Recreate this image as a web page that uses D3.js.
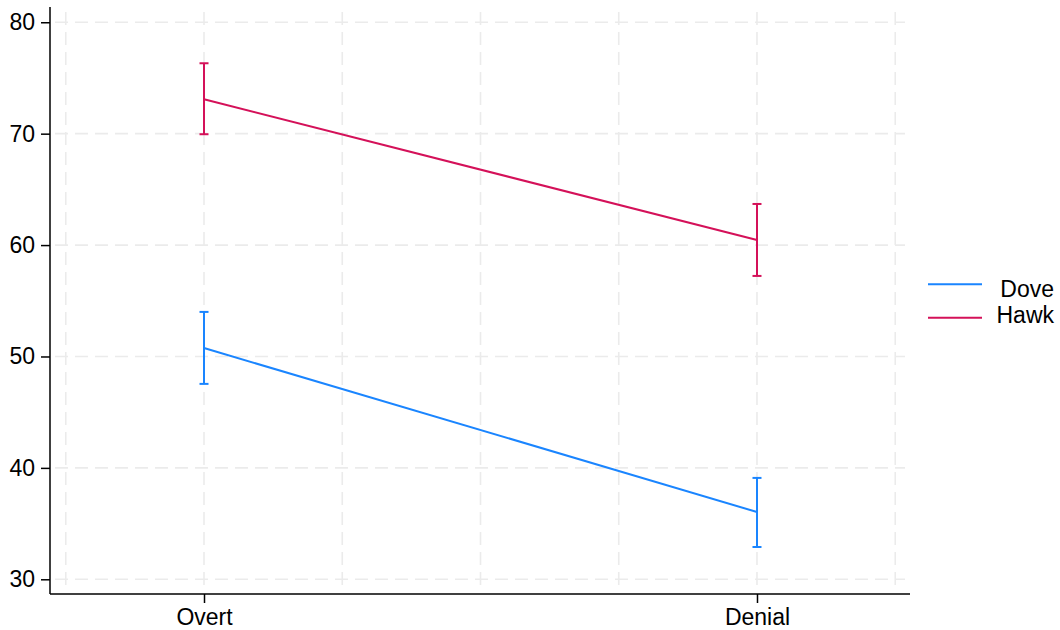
<!DOCTYPE html>
<html>
<head>
<meta charset="utf-8">
<script src="https://cdn.jsdelivr.net/npm/d3@7"></script>
<style>
  html, body { margin: 0; padding: 0; background: #fff; }
  svg { display: block; font-family: Arial, "Liberation Sans", Helvetica, sans-serif; }
</style>
</head>
<body>
<svg id="chart" width="1060" height="630"></svg>
<script>
// Conditions on the x axis (positions 1 and 2)
const conditions = ["Overt", "Denial"];
const conditionPos = [1, 2];

// Group labels and colours
const groups = ["Dove", "Hawk"];
const groupColors = ["#1a85ff", "#d41159"];

// Point estimates per group, in condition order
const doveMean = [50.76, 36.04];
const hawkMean = [73.09, 60.46];

// Confidence interval bounds
const doveLower = [47.54, 32.9];
const doveUpper = [54.0, 39.1];
const hawkLower = [69.95, 57.23];
const hawkUpper = [76.32, 63.69];

// Axis ticks and grid positions
const yTicks = [30, 40, 50, 60, 70, 80];
const xGrid = [0.75, 1, 1.25, 1.5, 1.75, 2, 2.25];

const series = [
  { name: groups[0], color: groupColors[0], mean: doveMean, lo: doveLower, hi: doveUpper },
  { name: groups[1], color: groupColors[1], mean: hawkMean, lo: hawkLower, hi: hawkUpper }
];

const svg = d3.select("#chart");
const plot = { left: 50, right: 910, top: 7, bottom: 594 };
const fontSize = 23;

const x = d3.scaleLinear().domain([0.7215, 2.2767]).range([plot.left, plot.right]);
const y = d3.scaleLinear().domain([28.68, 81.37]).range([plot.bottom, plot.top]);

// Grid
const grid = svg.append("g").attr("stroke", "#ebebeb").attr("stroke-width", 1.6)
  .attr("stroke-dasharray", "13,7").attr("fill", "none");
grid.selectAll("line.h").data(yTicks).join("line").attr("class", "h")
  .attr("x1", plot.left + 5).attr("x2", plot.right - 5)
  .attr("y1", d => y(d)).attr("y2", d => y(d));
grid.selectAll("line.v").data(xGrid).join("line").attr("class", "v")
  .attr("x1", d => x(d)).attr("x2", d => x(d))
  .attr("y1", plot.top + 5).attr("y2", plot.bottom - 5);

// Axes
const yAxis = d3.axisLeft(y).tickValues(yTicks).tickSize(9).tickPadding(6).tickSizeOuter(0);
const gy = svg.append("g").attr("transform", `translate(${plot.left},0)`).call(yAxis);
gy.select(".domain").attr("stroke", "#000").attr("stroke-width", 1.5)
  .attr("d", `M0,${plot.top}V${plot.bottom}`);
gy.selectAll(".tick line").attr("stroke", "#000").attr("stroke-width", 1.5);
gy.selectAll(".tick text").attr("font-size", fontSize).attr("fill", "#000")
  .attr("font-family", "Arial, 'Liberation Sans', sans-serif");

const xAxis = d3.axisBottom(x).tickValues(conditionPos)
  .tickFormat((d, i) => conditions[i]).tickSize(9).tickPadding(6).tickSizeOuter(0);
const gx = svg.append("g").attr("transform", `translate(0,${plot.bottom})`).call(xAxis);
gx.select(".domain").attr("stroke", "#000").attr("stroke-width", 1.5)
  .attr("d", `M${plot.left},0H${plot.right}`);
gx.selectAll(".tick line").attr("stroke", "#000").attr("stroke-width", 1.5);
gx.selectAll(".tick text").attr("font-size", fontSize).attr("fill", "#000")
  .attr("font-family", "Arial, 'Liberation Sans', sans-serif");

// Lines and error bars
const line = d3.line().x((d, i) => x(conditionPos[i])).y(d => y(d));
const capHalf = 4.5;
series.forEach(s => {
  const g = svg.append("g").attr("stroke", s.color).attr("stroke-width", 2).attr("fill", "none");
  g.append("path").attr("d", line(s.mean));
  conditionPos.forEach((p, i) => {
    const cx = x(p);
    g.append("line").attr("x1", cx).attr("x2", cx).attr("y1", y(s.lo[i])).attr("y2", y(s.hi[i]));
    g.append("line").attr("x1", cx - capHalf).attr("x2", cx + capHalf).attr("y1", y(s.lo[i])).attr("y2", y(s.lo[i]));
    g.append("line").attr("x1", cx - capHalf).attr("x2", cx + capHalf).attr("y1", y(s.hi[i])).attr("y2", y(s.hi[i]));
  });
});

// Legend: keys stacked on the left, labels right-aligned in a tighter column
const legend = svg.append("g");
series.forEach((s, i) => {
  const keyY = 284.3 + i * 33.4;
  legend.append("line").attr("x1", 928).attr("x2", 982).attr("y1", keyY).attr("y2", keyY)
    .attr("stroke", s.color).attr("stroke-width", 2);
  legend.append("text").attr("x", 1054).attr("y", 297 + i * 26.3)
    .attr("text-anchor", "end").attr("font-size", fontSize).attr("fill", "#000")
    .text(s.name);
});
</script>
</body>
</html>
